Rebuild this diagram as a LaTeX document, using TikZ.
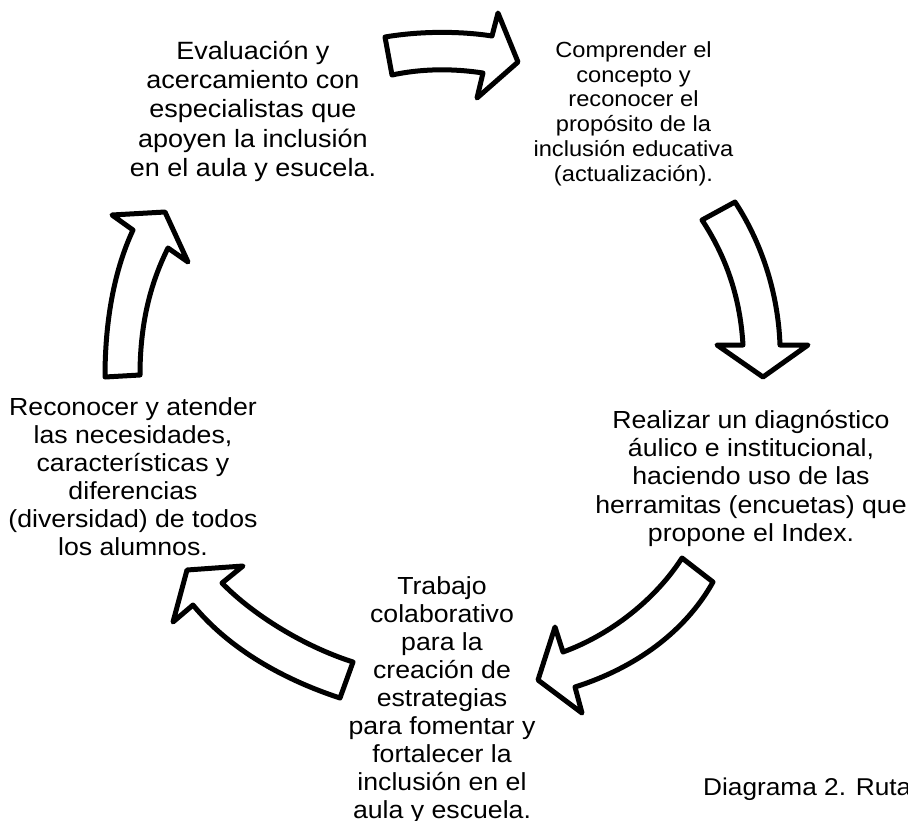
\documentclass[tikz,border=0pt]{standalone}
\usepackage{fontspec}
\setmainfont{Liberation Sans}[FakeStretch=1.08]
\begin{document}
\begin{tikzpicture}[x=1pt,y=-1pt,
  blockarrow/.style={draw=black, line width=5pt, line join=round, fill=white},
  lbl/.style={align=center, inner sep=0pt, anchor=base}]
\useasboundingbox (0,0) rectangle (908,820);
% text blocks (anchor = baseline of the last line)
\node[lbl, font=\fontsize{25}{29.3}\selectfont] (eval) at (253,176.5)
  {Evaluación y\\acercamiento con\\especialistas que\\apoyen la inclusión\\en el aula y esucela.};
\node[lbl, font=\fontsize{21.9}{24.7}\selectfont] (comp) at (633.5,181)
  {Comprender el\\concepto y\\reconocer el\\propósito de la\\inclusión educativa\\(actualización).};
\node[lbl, font=\fontsize{24.7}{28.4}\selectfont] (diag) at (751,541.7)
  {Realizar un diagnóstico\\áulico e institucional,\\haciendo uso de las\\herramitas (encuetas) que\\propone el Index.};
\node[lbl, font=\fontsize{24.7}{28}\selectfont] (trab) at (442,818)
  {Trabajo\\colaborativo\\para la\\creación de\\estrategias\\para fomentar y\\fortalecer la\\inclusión en el\\aula y escuela.};
\node[lbl, font=\fontsize{24.7}{28}\selectfont] (reco) at (133,555)
  {Reconocer y atender\\las necesidades,\\características y\\diferencias\\(diversidad) de todos\\los alumnos.};
\node[anchor=base west, inner sep=0pt, font=\fontsize{24.3}{28}\selectfont] (cap) at (703,795) {Diagrama 2. Ruta};
% block arrows
\draw[blockarrow] (385,37) .. controls (420,31) and (460,31) .. (492,36) -- (498,13) -- (518,62) -- (477,98) -- (483,73)
  .. controls (450,68) and (420,69) .. (392,75) -- cycle;
\draw[blockarrow] (702,220) -- (735,202) .. controls (760,240) and (778,290) .. (780,345) -- (808,345) -- (763,377) -- (717,345) -- (743,345)
  .. controls (740,295) and (725,255) .. (702,220) -- cycle;
\draw[blockarrow] (682,558) -- (713,582) .. controls (685,632) and (635,668) .. (575,687) -- (582,713) -- (538,680) -- (555,627) -- (563,652)
  .. controls (610,635) and (655,600) .. (682,558) -- cycle;
\draw[blockarrow] (353,662) -- (340,698) .. controls (285,680) and (230,650) .. (193,605) -- (173,622) -- (187,570) -- (243,566) -- (222,583)
  .. controls (250,612) and (300,645) .. (353,662) -- cycle;
\draw[blockarrow] (105,377) -- (140,375) .. controls (140,320) and (152,280) .. (168,248) -- (188,262) -- (165,212) -- (112,215) -- (133,230)
  .. controls (118,262) and (105,310) .. (105,377) -- cycle;
\end{tikzpicture}
\end{document}
